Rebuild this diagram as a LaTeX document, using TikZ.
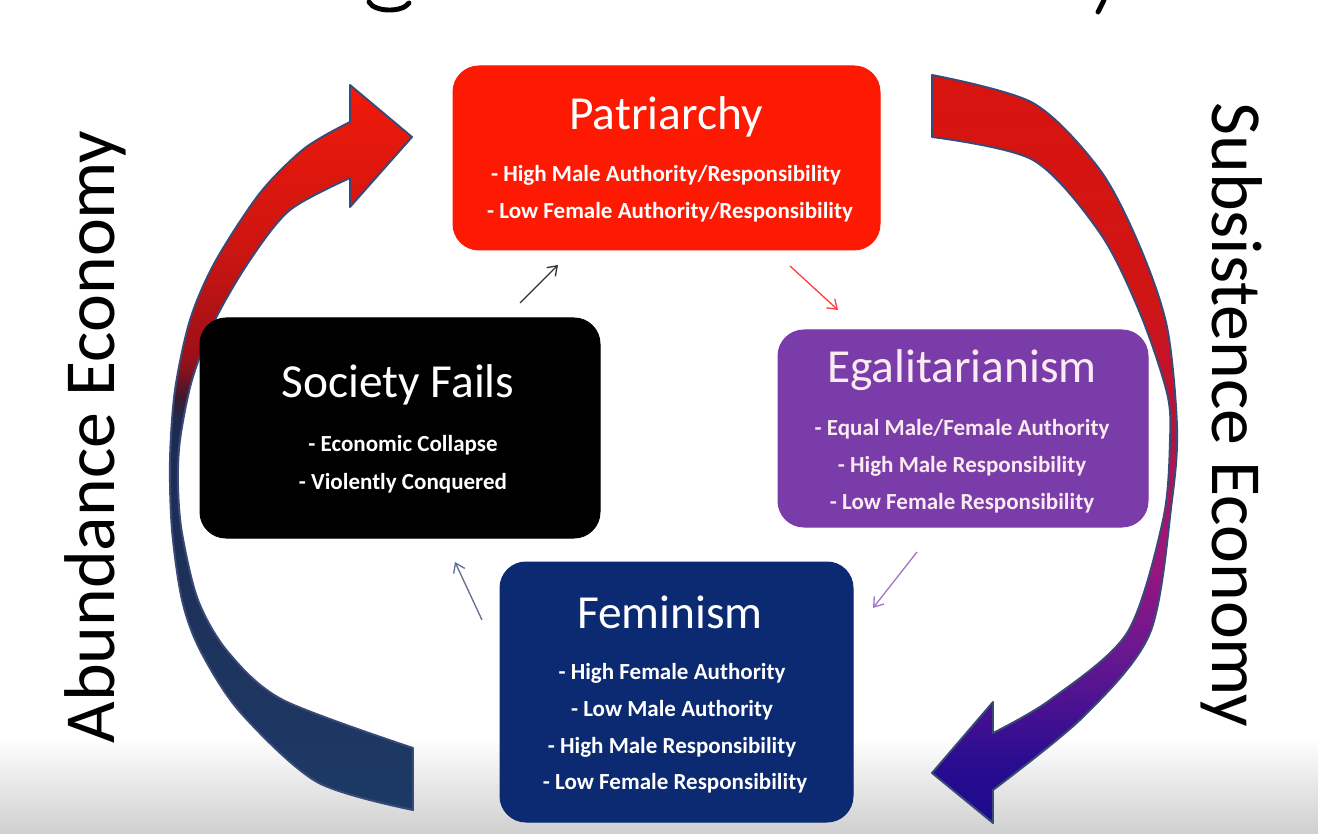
\documentclass[tikz,border=0pt]{standalone}
\usepackage{fontspec}
\setmainfont{Carlito}
\usetikzlibrary{arrows.meta}
\newdimen\pxu \pxu=0.02cm
\definecolor{patred}{HTML}{FE1A02}
\definecolor{egpurple}{HTML}{7A3CA8}
\definecolor{femblue}{HTML}{0B2A72}
\definecolor{edgeblue}{HTML}{3A4A78}
\definecolor{bandgray}{HTML}{CFCFCF}
\definecolor{la1}{HTML}{F01A0A}
\definecolor{la2}{HTML}{CC1510}
\definecolor{la3}{HTML}{9A1018}
\definecolor{la4}{HTML}{3A1A30}
\definecolor{la5}{HTML}{1E2A50}
\definecolor{la6}{HTML}{1C3A66}
\definecolor{ra1}{HTML}{D8140E}
\definecolor{ra2}{HTML}{D01515}
\definecolor{ra3}{HTML}{B8123A}
\definecolor{ra4}{HTML}{A0157A}
\definecolor{ra5}{HTML}{6A1890}
\definecolor{ra6}{HTML}{2A0C90}
\definecolor{ra7}{HTML}{1A0A8C}
\pgfdeclareverticalshading{leftarrshade}{100bp}{color(0bp)=(la6); color(25bp)=(la6); color(51.9bp)=(la5); color(53.3bp)=(la4); color(56bp)=(la3); color(63.6bp)=(la2); color(75bp)=(la1); color(100bp)=(la1)}
\pgfdeclareverticalshading{rightarrshade}{100bp}{color(0bp)=(ra7); color(25bp)=(ra7); color(29.2bp)=(ra6); color(36.6bp)=(ra5); color(43.2bp)=(ra4); color(51.9bp)=(ra3); color(60bp)=(ra2); color(75bp)=(ra1); color(100bp)=(ra1)}
\begin{document}
\begin{tikzpicture}[x=0.02cm,y=-0.02cm,
  box/.style={rectangle,rounded corners=26\pxu,inner sep=0pt,draw=#1,fill=#1,line width=1\pxu},
  ttl/.style={text=white,font=\fontsize{27}{30}\selectfont,inner sep=0pt},
  itm/.style={text=white,font=\fontsize{13.1}{15}\selectfont\bfseries,inner sep=0pt},
  side/.style={text=black,font=\fontsize{40.9}{44}\selectfont,inner sep=0pt},
  small/.style={line width=0.75pt,-{Straight Barb[length=5pt,width=7pt]}},
  bigarrow/.style={draw=edgeblue,line width=1.1pt,line join=round}]
\useasboundingbox (0,0) rectangle (1318,834);
% bottom gray band
\shade[top color=white,bottom color=bandgray] (0,738) rectangle (1318,834);
% title fragments (descenders)
\draw[line width=2.8pt,line cap=round] (369,2) .. controls (374,12) and (402,13) .. (409,3);
\draw[line width=2.8pt,line cap=round] (1104,0) -- (1098,12);
% big curved arrows
\shade[bigarrow,shading=leftarrshade]
  plot[smooth] coordinates {(413,810) (317,782) (240,712) (200,650) (182,600) (172,530) (170,460) (175,390) (190,320) (215,262) (260,193) (305,148) (350,122)}
  -- (350,85) -- (412,137) -- (350,207) -- (350,178)
  -- plot[smooth] coordinates {(350,178) (290,210) (250,260) (215,320) (192,380) (180,440) (178,485) (182,533) (198,600) (228,652) (283,700) (413,748)}
  -- cycle;
\shade[bigarrow,shading=rightarrshade]
  plot[smooth] coordinates {(932,75) (1033,103) (1100,170) (1140,247) (1167,327) (1177,427) (1172,500) (1150,633) (1083,717) (993,790)}
  -- (993,823) -- (932,773) -- (993,702) -- (993,733)
  -- plot[smooth] coordinates {(993,733) (1050,700) (1127,633) (1163,520) (1170,440) (1167,393) (1140,313) (1100,233) (1033,160) (932,137)}
  -- cycle;
% side labels
\node[side,rotate=90] (abund) at (95,437) {Abundance Economy};
\node[side,rotate=-90] (subs) at (1232,415) {Subsistence Economy};
% boxes
\node[box=patred,minimum width=427\pxu,minimum height=184\pxu] (pat) at (666.5,158) {};
\node[box=black,minimum width=400\pxu,minimum height=220\pxu] (soc) at (400,428) {};
\node[box=egpurple,minimum width=370\pxu,minimum height=197\pxu] (ega) at (963,428.5) {};
\node[box=femblue,minimum width=353\pxu,minimum height=260\pxu] (fem) at (676.5,692) {};
% texts
\node[ttl] (patT) at (666,117) {Patriarchy};
\node[itm] (patA) at (666,175) {- High Male Authority/Responsibility};
\node[itm] (patB) at (670,212) {- Low Female Authority/Responsibility};
\node[ttl] (socT) at (398,385) {Society Fails};
\node[itm] (socA) at (403,445) {- Economic Collapse};
\node[itm] (socB) at (403,483) {- Violently Conquered};
\node[ttl,text=white!92!purple] (egaT) at (962,370) {Egalitarianism};
\node[itm,text=white!92!purple] (egaA) at (962,429) {- Equal Male/Female Authority};
\node[itm,text=white!92!purple] (egaB) at (962,466) {- High Male Responsibility};
\node[itm,text=white!92!purple] (egaC) at (962,503) {- Low Female Responsibility};
\node[ttl] (femT) at (670,612) {Feminism};
\node[itm] (femA) at (672,673) {- High Female Authority};
\node[itm] (femB) at (672,710) {- Low Male Authority};
\node[itm] (femC) at (672,747) {- High Male Responsibility};
\node[itm] (femD) at (675,783) {- Low Female Responsibility};
% small connectors
\coordinate (s1) at (520,303); \coordinate (e1) at (558,265);
\coordinate (s2) at (790,266); \coordinate (e2) at (838,310);
\coordinate (s3) at (917,552); \coordinate (e3) at (873,608);
\coordinate (s4) at (482,620); \coordinate (e4) at (455,562);
\draw[small,draw=black!80] (s1) -- (e1);
\draw[small,draw=red!75!white] (s2) -- (e2);
\draw[small,draw=egpurple!70!white] (s3) -- (e3);
\draw[small,draw=edgeblue!80!white] (s4) -- (e4);
\end{tikzpicture}
\end{document}
